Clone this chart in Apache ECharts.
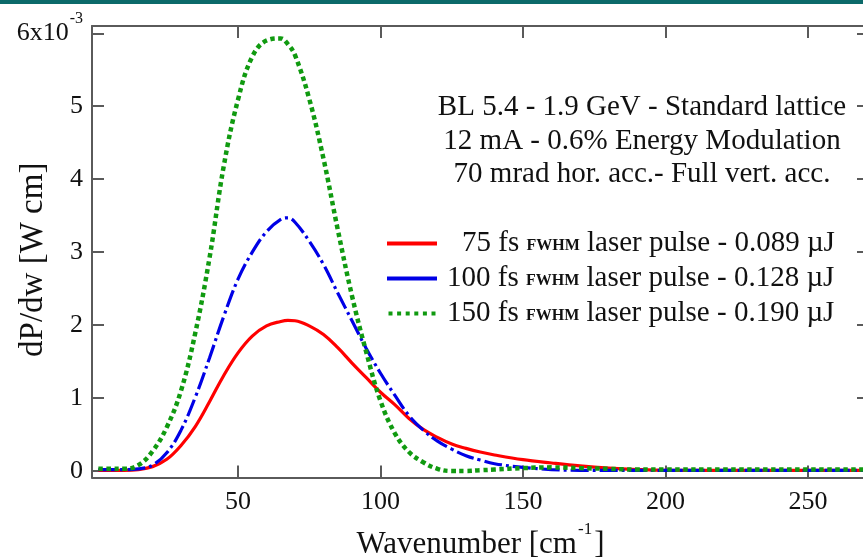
<!DOCTYPE html>
<html>
<head>
<meta charset="utf-8">
<script src="https://cdn.jsdelivr.net/npm/echarts@6/dist/echarts.min.js"></script>
<style>
html,body{margin:0;padding:0;background:#fff;}
#chart{width:863px;height:557px;}
</style>
</head>
<body>
<div id="chart"></div>
<script>
// ---- data ----
const wavenumber = [1,5,10,15,20,25,30,35,40,45,50,55,60,65,67.5,70,75,80,85,90,95,100,105,110,115,120,125,130,135,140,150,160,170,180,190,200,220,240,271];
const power75fs  = [0.01,0.01,0.01,0.02,0.06,0.16,0.35,0.61,0.95,1.31,1.62,1.85,1.99,2.05,2.065,2.06,1.99,1.87,1.69,1.48,1.28,1.08,0.91,0.72,0.57,0.46,0.37,0.31,0.26,0.22,0.155,0.11,0.07,0.04,0.02,0.01,0.01,0.01,0.01];
const power100fs = [0.02,0.02,0.02,0.03,0.08,0.25,0.56,1.01,1.55,2.12,2.63,3.00,3.28,3.45,3.47,3.41,3.15,2.83,2.44,2.06,1.68,1.34,1.04,0.76,0.56,0.41,0.30,0.21,0.15,0.10,0.05,0.02,0.01,0.01,0.01,0.01,0.01,0.01,0.01];
const power150fs = [0.03,0.03,0.03,0.08,0.27,0.60,1.10,1.89,2.92,4.18,5.09,5.68,5.90,5.93,5.85,5.70,5.10,4.28,3.31,2.40,1.63,0.96,0.52,0.26,0.12,0.03,0.00,0.00,0.01,0.02,0.04,0.05,0.04,0.03,0.02,0.02,0.02,0.02,0.02];

const seriesNames = ['75 fs', '100 fs', '150 fs'];
const pulseDurations = ['75', '100', '150'];
const pulseEnergies = ['0.089', '0.128', '0.190'];
const xTickValues = [50, 100, 150, 200, 250];
const yTickValues = [0, 1, 2, 3, 4, 5, 6];
const annotationLines = [
  'BL 5.4 - 1.9 GeV - Standard lattice',
  '12 mA - 0.6% Energy Modulation',
  '70 mrad hor. acc.- Full vert. acc.'
];
const xAxisTitle = 'Wavenumber [cm';
const xAxisTitleSup = '-1';
const yAxisTitle = 'dP/dw [W cm]';

// ---- chart ----
const FONT = '"Liberation Serif", "Times New Roman", serif';
const AXIS_COLOR = '#5a5a5a';
const TEXT_COLOR = '#111111';
const colors = ['#ff0000', '#0000e6', '#109a10'];

function pairs(ys) { return wavenumber.map((x, i) => [x, ys[i]]); }

const chart = echarts.init(document.getElementById('chart'), null, {renderer: 'canvas'});

const xMin = -1.23, xMax = 271.4, yMin = -0.089, yMax = 6.1;

const baseX = {
  type: 'value', min: xMin, max: xMax,
  axisLine: {show: true, onZero: false, lineStyle: {color: AXIS_COLOR, width: 2}},
  axisTick: {show: true, inside: true, length: 12, customValues: xTickValues, lineStyle: {color: AXIS_COLOR, width: 2}},
  splitLine: {show: false}
};
const baseY = {
  type: 'value', min: yMin, max: yMax,
  axisLine: {show: true, onZero: false, lineStyle: {color: AXIS_COLOR, width: 2}},
  axisTick: {show: true, inside: true, length: 12, customValues: yTickValues, lineStyle: {color: AXIS_COLOR, width: 2}},
  splitLine: {show: false}
};

const dotPath = 'path://M0,0h4v4h-4z M8.6,0h4v4h-4z M17.2,0h4v4h-4z M25.8,0h4v4h-4z M34.4,0h4v4h-4z M43,0h4v4h-4z';

const option = {
  backgroundColor: '#ffffff',
  animation: false,
  grid: {left: 92, top: 26, right: -6, bottom: 79.5, containLabel: false, outerBoundsMode: 'none'},
  xAxis: [
    Object.assign({}, baseX, {
      position: 'bottom',
      axisLabel: {
        show: true, customValues: xTickValues, margin: 12,
        fontFamily: FONT, fontSize: 26, color: TEXT_COLOR
      },
      name: '{a|' + xAxisTitle + '}{sup|' + xAxisTitleSup + '}{a|]}',
      nameLocation: 'middle', nameGap: 52, nameMoveOverlap: false,
      nameTextStyle: {
        fontFamily: FONT, fontSize: 31, color: TEXT_COLOR,
        rich: {
          a: {fontFamily: FONT, fontSize: 31, color: TEXT_COLOR, lineHeight: 31},
          sup: {fontFamily: FONT, fontSize: 17, color: TEXT_COLOR, lineHeight: 17, padding: [0, 2, 30, 1]}
        }
      }
    }),
    Object.assign({}, baseX, {position: 'top', axisLabel: {show: false}})
  ],
  yAxis: [
    Object.assign({}, baseY, {
      position: 'left',
      axisLabel: {
        show: true, customValues: yTickValues, margin: 9,
        fontFamily: FONT, fontSize: 26, color: TEXT_COLOR,
        formatter: function (v) {
          if (v === 6) return '{a|6x10}{sup|-3}';
          return '{a|' + v + '}';
        },
        rich: {
          a: {fontFamily: FONT, fontSize: 26, color: TEXT_COLOR, lineHeight: 26},
          sup: {fontFamily: FONT, fontSize: 16, color: TEXT_COLOR, lineHeight: 16, padding: [0, 0, 28, 1]}
        }
      },
      name: yAxisTitle, nameLocation: 'middle', nameGap: 42, nameMoveOverlap: false,
      nameTextStyle: {fontFamily: FONT, fontSize: 33, color: TEXT_COLOR, padding: [0, 16, 0, 0]}
    }),
    Object.assign({}, baseY, {position: 'right', axisLabel: {show: false}})
  ],
  legend: {
    orient: 'vertical', left: 387, top: 226,
    itemWidth: 50, itemHeight: 4, itemGap: 0, padding: 0,
    selectedMode: false,
    data: [
      {name: seriesNames[0], icon: 'rect'},
      {name: seriesNames[1], icon: 'rect'},
      {name: seriesNames[2], icon: dotPath}
    ],
    formatter: function (name) {
      const i = seriesNames.indexOf(name);
      const first = i === 0 ? 'n0' : 'n';
      return '{' + first + '|' + pulseDurations[i] + ' fs }{s|FWHM}{n2| laser pulse - ' + pulseEnergies[i] + ' µJ}';
    },
    textStyle: {
      fontFamily: FONT, fontSize: 29, color: TEXT_COLOR, lineHeight: 35,
      rich: {
        n0: {fontFamily: FONT, fontSize: 29, color: TEXT_COLOR, lineHeight: 35, padding: [0, 0, 0, 20]},
        n: {fontFamily: FONT, fontSize: 29, color: TEXT_COLOR, lineHeight: 35, padding: [0, 0, 0, 5]},
        s: {fontFamily: FONT, fontSize: 16, fontWeight: 'bold', color: TEXT_COLOR, lineHeight: 35, padding: [4, 0, 0, 0]},
        n2: {fontFamily: FONT, fontSize: 29, color: TEXT_COLOR, lineHeight: 35}
      }
    }
  },
  graphic: [
    {type: 'rect', left: 0, top: 0, shape: {width: 863, height: 4}, style: {fill: '#0c6a6a'}, z: 100},
    {
      type: 'text', x: 642, y: 91,
      style: {
        text: annotationLines.join('\n'),
        font: '29px ' + FONT,
        fill: TEXT_COLOR,
        align: 'center', verticalAlign: 'top',
        textAlign: 'center', textVerticalAlign: 'top',
        lineHeight: 33.3
      },
      z: 100
    }
  ],
  series: [
    {
      name: seriesNames[0], type: 'line', data: pairs(power75fs),
      xAxisIndex: 0, yAxisIndex: 0, smooth: 0.4, showSymbol: false, symbol: 'none',
      color: colors[0],
      lineStyle: {color: colors[0], width: 3.2, type: 'solid'}, z: 3
    },
    {
      name: seriesNames[1], type: 'line', data: pairs(power100fs),
      xAxisIndex: 0, yAxisIndex: 0, smooth: 0.4, showSymbol: false, symbol: 'none',
      color: colors[1],
      lineStyle: {color: colors[1], width: 3.2, type: [18, 4, 3, 4]}, z: 4
    },
    {
      name: seriesNames[2], type: 'line', data: pairs(power150fs),
      xAxisIndex: 0, yAxisIndex: 0, smooth: 0.4, showSymbol: false, symbol: 'none',
      color: colors[2],
      lineStyle: {color: colors[2], width: 4.5, type: [4.5, 3.5], cap: 'butt'}, z: 5
    }
  ]
};
chart.setOption(option);
</script>
</body>
</html>
